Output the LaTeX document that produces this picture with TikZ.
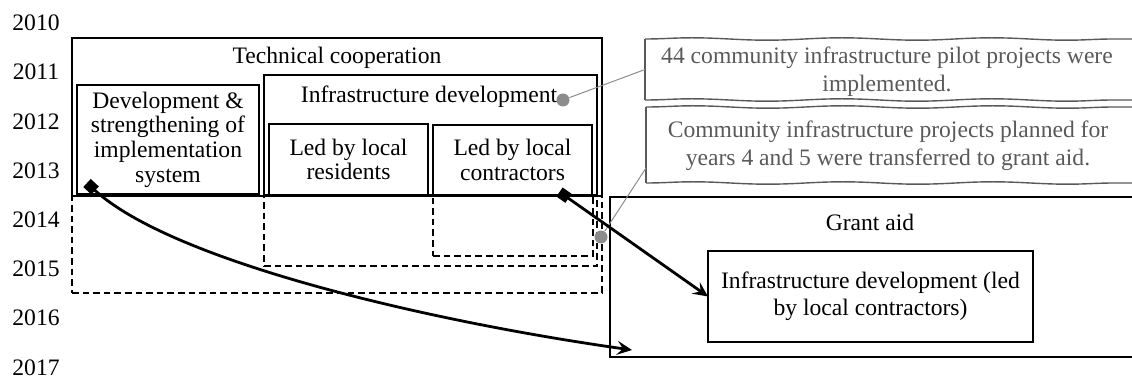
\documentclass[tikz,border=0pt]{standalone}
\usepackage{fontspec}
\setmainfont{Liberation Serif}
\usetikzlibrary{arrows.meta,positioning,decorations.pathmorphing}
\definecolor{notegray}{HTML}{595959}
\definecolor{dotgray}{HTML}{8C8C8C}

\begin{document}
\begin{tikzpicture}[x=0.5pt,y=-0.5pt,
  every node/.style={font=\fontsize{11.8}{12.3}\selectfont},
  box/.style={draw,line width=0.9pt,inner sep=0pt,outer sep=0pt,anchor=north west,align=center},
  dbox/.style={draw,line width=0.9pt,dash pattern=on 3.3pt off 2pt,inner sep=0pt,outer sep=0pt,anchor=north west},
  note/.style={inner sep=0pt,outer sep=0pt,anchor=north west},
  noteline/.style={draw=notegray,line width=0.7pt},
  wavy/.style={decorate,decoration={snake,amplitude=0.6pt,segment length=75pt}},
  notetext/.style={text=notegray,align=center,font=\fontsize{11.8}{14}\selectfont},
  dot/.style={circle,fill=dotgray,inner sep=0pt,minimum size=6.5pt},
  pin/.style={draw=dotgray,line width=0.5pt},
  link/.style={line width=1.4pt,{Square[length=5.5pt,width=5.5pt]}-{Stealth[length=7.5pt,width=7pt,inset=3pt]}}]
  \useasboundingbox (0,0) rectangle (1132,379);
  \clip (0,0) rectangle (1132,379);
  % years
  \foreach \yr [count=\i from 0] in {2010,...,2017} {
     \node (yr\yr) at (36,23+49.2*\i) {\yr};
  }
  % extension periods (dashed)
  \node[dbox,minimum width=265pt,minimum height=48.5pt] (tcext) at (72,196) {};
  \node[dbox,minimum width=166.5pt,minimum height=35pt] (infext) at (264,196) {};
  \node[dbox,minimum width=80pt,minimum height=30pt] (conext) at (433,196) {};
  % technical cooperation
  \node[box,minimum width=265pt,minimum height=79pt] (tc) at (72,38) {};
  \node (tclab) at (337,58) {Technical cooperation};
  \node[box,minimum width=91pt,minimum height=54.5pt] (dev) at (77,85)
     {Development \&\\strengthening of\\implementation\\system};
  \node[box,minimum width=166.5pt,minimum height=60pt] (inf) at (264,75) {};
  \node (inflab) at (429,97) {Infrastructure development};
  \node[box,minimum width=79.5pt,minimum height=35.5pt] (res) at (269,124) {Led by local\\residents};
  \node[box,minimum width=79.5pt,minimum height=35pt] (con) at (433,125) {Led by local\\contractors};
  % grant aid
  \node[box,minimum width=265pt,minimum height=80pt] (grant) at (610,197) {};
  \node (grantlab) at (870,222) {Grant aid};
  \node[box,line width=1.3pt,minimum width=162.5pt,minimum height=45.5pt,
     font=\fontsize{11.8}{13.5}\selectfont] (gcon) at (708,251)
     {Infrastructure development (led\\by local contractors)};
  % notes
  \node[note,minimum width=247.5pt,minimum height=30.5pt] (note1) at (645,39) {};
  \node[notetext] (note1txt) at (887,72) {44 community infrastructure pilot projects were\\implemented.};
  \node[note,minimum width=247pt,minimum height=38pt] (note2) at (646,107) {};
  \node[notetext] (note2txt) at (888,146) {Community infrastructure projects planned for\\years 4 and 5 were transferred to grant aid.};
  \foreach \n in {note1,note2} {
     \draw[noteline] (\n.north west) -- (\n.south west);
     \draw[noteline,wavy] (\n.north west) -- (\n.north east);
     \draw[noteline,wavy] (\n.south west) -- (\n.south east);
  }
  \node[dot] (d1) at (563,100) {};
  \draw[pin] (d1) -- (note1.west);
  \node[dot] (d2) at (601,237) {};
  \draw[pin] (d2) -- ([yshift=7.5pt]note2.south west);
  % transfers
  \draw[link] ([xshift=5pt,yshift=5.5pt]dev.south west) .. controls (170,260) and (420,320) ..
     ([xshift=11pt,yshift=3.5pt]grant.south west);
  \draw[link] ([xshift=23.5pt,yshift=1.5pt]con.south) -- (gcon.west);
\end{tikzpicture}
\end{document}
